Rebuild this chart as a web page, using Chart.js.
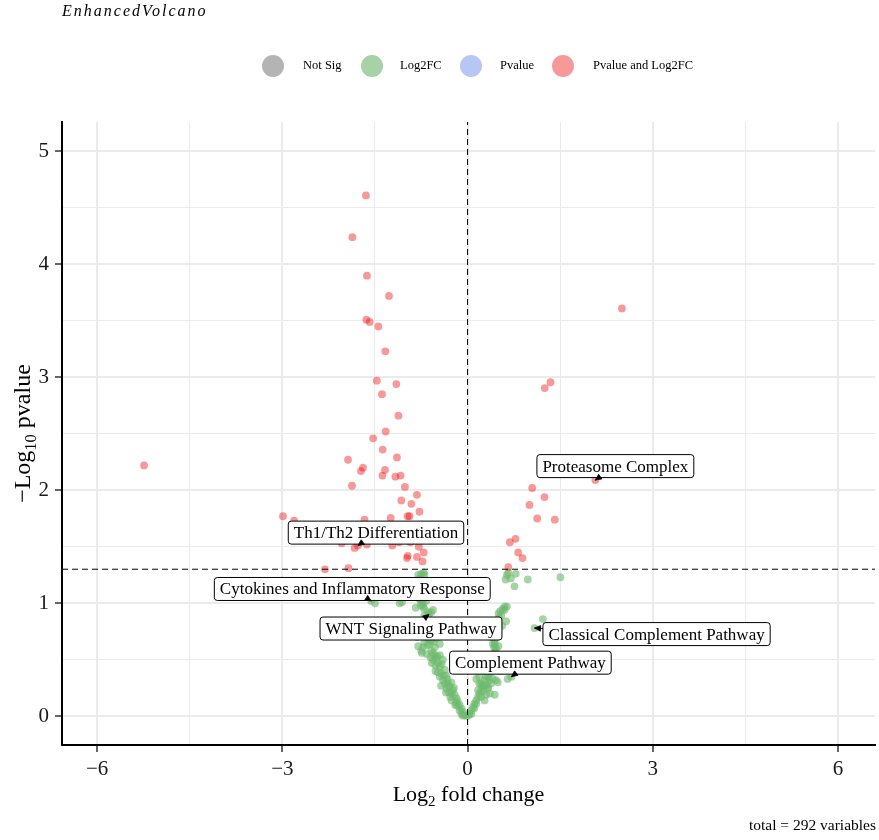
<!DOCTYPE html>
<html>
<head>
<meta charset="utf-8">
<script src="https://cdn.jsdelivr.net/npm/chart.js@4"></script>
<style>
html,body{margin:0;padding:0;background:#fff;}
#wrap{width:879px;height:840px;position:relative;}
</style>
</head>
<body>
<div id="wrap"><canvas id="c"></canvas></div>
<script>
// ---------------- data ----------------
const legendNames = ['Not Sig', 'Log2FC', 'Pvalue', 'Pvalue and Log2FC'];
const xTickValues = [-6, -4.5, -3, -1.5, 0, 1.5, 3, 4.5, 6];
const xMajorTicks = [-6, -3, 0, 3, 6];
const yTickValues = [0, 0.5, 1, 1.5, 2, 2.5, 3, 3.5, 4, 4.5, 5];
const yMajorTicks = [0, 1, 2, 3, 4, 5];
const pCutoffLog = 1.301;   // -log10(0.05)
const fcCutoff = 0;
const totalVariables = 292;

const notSigPoints = [];
const pvaluePoints = [];

const pvalAndLog2fcPoints = [
  [-5.24,2.22],[-1.646,4.61],[-1.866,4.24],[-1.63,3.90],[-1.273,3.72],[-1.64,3.51],[-1.586,3.49],
  [-1.445,3.45],[-1.332,3.23],[-1.47,2.97],[-1.154,2.94],[-1.387,2.85],[-1.12,2.66],[-1.327,2.52],
  [-1.53,2.46],[-1.375,2.36],[-1.144,2.29],[-1.937,2.27],[-1.694,2.20],[-1.727,2.17],[-1.338,2.18],
  [-1.38,2.13],[-1.17,2.12],[-1.084,2.13],[-1.015,2.03],[-1.872,2.04],[-0.82,1.96],[-1.073,1.91],
  [-0.91,1.88],[-0.78,1.81],[-2.99,1.77],[-2.81,1.73],[-1.67,1.74],[-1.246,1.755],[-0.97,1.77],
  [-0.94,1.77],[-2.04,1.53],[-1.63,1.52],[-1.22,1.51],[-1.83,1.49],[-1.775,1.51],[-1.11,1.54],
  [-0.93,1.54],[-0.79,1.50],[-0.71,1.45],[-0.97,1.42],[-0.98,1.40],[-0.82,1.41],[-0.73,1.37],
  [-2.31,1.30],[-1.93,1.31],
  [2.50,3.61],[1.343,2.956],[1.25,2.905],[2.07,2.09],[1.047,2.02],[1.246,1.94],[1.003,1.87],
  [1.128,1.75],[1.413,1.74],[0.777,1.57],[0.685,1.54],[0.82,1.45],[0.89,1.40],[0.66,1.32]
];

const log2fcPoints = [
  [-1.56,1.02],[-1.50,1.00],[-1.06,1.01],[-1.10,1.00],
  [-0.80,1.25],[-0.71,1.27],[-0.75,1.26],[-0.70,1.25],[-0.78,1.22],[-0.77,1.20],[-0.74,1.18],
  [-0.75,1.16],[-0.79,1.13],[-0.72,1.10],[-0.71,1.07],[-0.78,1.06],[-0.78,1.04],[-0.75,1.03],
  [-0.67,1.02],[-0.75,1.01],[-0.72,1.00],[-0.76,0.98],[-0.72,0.97],[-0.70,0.95],[-0.64,0.92],
  [-0.59,0.92],[-0.56,0.94],[-0.625,0.90],[-0.70,0.89],[-0.67,0.86],[-0.63,0.83],[-0.70,0.81],
  [-0.66,0.78],[-0.60,0.76],[-0.68,0.74],[-0.62,0.71],[-0.57,0.72],[-0.65,0.69],[-0.59,0.67],
  [-0.51,0.69],[-0.70,0.65],[-0.65,0.63],[-0.62,0.64],[-0.72,0.61],[-0.75,0.58],[-0.74,0.56],
  [-0.59,0.58],[-0.56,0.56],[-0.53,0.54],[-0.45,0.64],[-0.45,0.54],[-0.51,0.51],[-0.56,0.50],
  [-0.49,0.53],[-0.48,0.47],[-0.45,0.44],[-0.42,0.46],[-0.40,0.50],[-0.48,0.39],[-0.43,0.38],
  [-0.37,0.41],[-0.45,0.35],[-0.345,0.36],[-0.40,0.32],[-0.37,0.29],[-0.32,0.30],[-0.43,0.27],
  [-0.345,0.245],[-0.29,0.26],[-0.26,0.30],[-0.24,0.23],[-0.26,0.20],[-0.21,0.19],[-0.26,0.14],
  [-0.18,0.16],[-0.16,0.13],[-0.19,0.12],[-0.13,0.10],[-0.16,0.09],[-0.10,0.07],[-0.13,0.05],
  [-0.076,0.04],[-0.10,0.02],[-0.05,0.01],[-0.076,0.005],[-0.02,0.005],[-0.30,0.21],[-0.33,0.33],
  [-0.22,0.25],[-0.20,0.10],[-0.28,0.17],[-0.35,0.21],[-0.31,0.27],[-0.39,0.36],[-0.53,0.61],
  [-0.55,0.66],[-0.80,0.62],[-0.66,0.55],[-0.60,0.52],[-0.52,0.45],[-0.84,0.96],[-0.82,0.70],
  [-0.52,0.40],[-0.58,0.47],
  [0.637,1.25],[0.66,1.27],[0.78,1.26],[0.70,1.22],[0.615,1.21],[0.976,1.21],[0.76,1.15],
  [1.505,1.23],[0.60,0.97],[0.636,0.97],[0.60,0.94],[0.57,0.95],[0.53,0.93],[0.50,0.91],
  [0.545,0.89],[0.51,0.87],[0.625,0.84],[1.22,0.86],[1.085,0.78],[0.50,0.82],[0.47,0.78],
  [0.44,0.79],[0.40,0.75],[0.45,0.72],[0.38,0.70],[0.41,0.70],[0.44,0.67],[0.41,0.64],
  [0.44,0.64],[0.46,0.60],[0.43,0.61],[0.44,0.57],[0.44,0.53],[0.46,0.50],[0.41,0.47],
  [0.40,0.44],[0.36,0.42],[0.36,0.38],[0.33,0.35],[0.30,0.35],[0.275,0.32],[0.46,0.32],
  [0.41,0.33],[0.38,0.29],[0.49,0.30],[0.71,0.35],[0.65,0.33],[0.19,0.35],[0.14,0.33],
  [0.19,0.29],[0.22,0.29],[0.26,0.26],[0.24,0.27],[0.33,0.26],[0.33,0.245],[0.22,0.23],
  [0.17,0.23],[0.19,0.20],[0.36,0.20],[0.30,0.19],[0.44,0.19],[0.17,0.17],[0.22,0.17],
  [0.14,0.14],[0.275,0.14],[0.11,0.11],[0.14,0.11],[0.086,0.08],[0.11,0.07],[0.06,0.05],
  [0.03,0.02],[0.06,0.02],[0.01,0.005],[0.25,0.22],[0.30,0.28],[0.35,0.32],[0.52,0.40],
  [0.50,0.62],[0.56,0.80]
];

const labelNames = ['Proteasome Complex', 'Th1/Th2 Differentiation', 'Cytokines and Inflammatory Response',
                    'WNT Signaling Pathway', 'Classical Complement Pathway', 'Complement Pathway'];
const labelX = [2.07, -1.775, -1.56, -0.625, 1.085, 0.71];
const labelY = [2.09, 1.51, 1.02, 0.90, 0.78, 0.35];

// ---------------- style ----------------
const FONT = "'Liberation Serif','Times New Roman',serif";
const COLORS = ['rgba(77,77,77,0.42)', 'rgba(110,185,110,0.62)', 'rgba(65,105,225,0.4)', 'rgba(238,0,0,0.4)'];
const LEGEND_COLORS = ['rgba(77,77,77,0.42)', 'rgba(34,139,34,0.4)', 'rgba(65,105,225,0.38)', 'rgba(238,0,0,0.4)'];
const LABEL_OFFSETS = [[20,-14],[18,-13],[-19,-12],[-18,14],[122,6],[19,-14]];
const X_MIN = -6.57, X_MAX = 6.6, Y_MIN = -0.255, Y_MAX = 5.26;
const POINT_R = 3.9;

const isMajor = (v, list) => list.some(m => Math.abs(m - v) < 1e-6);
const fmt = v => v < 0 ? '\u2212' + Math.abs(v) : String(v);
const toXY = arr => arr.map(([x, y]) => ({x, y}));

function drawParts(ctx, parts, size, subSize, cx, cy) {
  let total = 0;
  const widths = parts.map(([t, sub]) => {
    ctx.font = `${sub ? subSize : size}px ${FONT}`;
    const w = ctx.measureText(t).width; total += w; return w;
  });
  let x = cx - total / 2;
  ctx.textAlign = 'left';
  ctx.textBaseline = 'alphabetic';
  parts.forEach(([t, sub], i) => {
    ctx.font = `${sub ? subSize : size}px ${FONT}`;
    ctx.fillText(t, x, cy + size * 0.35 + (sub ? size * 0.25 : 0));
    x += widths[i];
  });
}

const annotPlugin = {
  id: 'annot',
  afterDatasetsDraw(chart) {
    const {ctx, scales: {x, y}} = chart;
    ctx.save();
    labelNames.forEach((name, i) => {
      const px = x.getPixelForValue(labelX[i]);
      const py = y.getPixelForValue(labelY[i]);
      const [ox, oy] = LABEL_OFFSETS[i];
      const cx = px + ox, cy = py + oy;
      ctx.font = `17px ${FONT}`;
      const w = ctx.measureText(name).width + 11, h = 23;
      ctx.beginPath();
      ctx.roundRect(cx - w / 2, cy - h / 2, w, h, 3);
      ctx.fillStyle = '#fff';
      ctx.fill();
      ctx.lineWidth = 1;
      ctx.strokeStyle = '#000';
      ctx.stroke();
      ctx.fillStyle = '#000';
      ctx.textAlign = 'center';
      ctx.textBaseline = 'middle';
      ctx.fillText(name, cx, cy + 1);
      const dx = px - cx, dy = py - cy;
      const s = Math.min(dx ? (w / 2) / Math.abs(dx) : Infinity, dy ? (h / 2) / Math.abs(dy) : Infinity);
      const len = Math.hypot(dx, dy);
      const ux = -dx / len, uy = -dy / len;
      if (s < 1) {
        const bx = cx + dx * s, by = cy + dy * s;
        ctx.beginPath();
        ctx.moveTo(bx, by); ctx.lineTo(px, py);
        ctx.lineWidth = 1; ctx.stroke();
      }
      const bl = 6, hw = 2.8;
      const bx2 = px + ux * bl, by2 = py + uy * bl;
      ctx.beginPath();
      ctx.moveTo(px, py);
      ctx.lineTo(bx2 - uy * hw, by2 + ux * hw);
      ctx.lineTo(bx2 + uy * hw, by2 - ux * hw);
      ctx.closePath();
      ctx.fillStyle = '#000';
      ctx.fill();
      ctx.lineWidth = 0.8;
      ctx.stroke();
    });
    ctx.restore();
  },
  afterDraw(chart) {
    const {ctx, chartArea} = chart;
    ctx.save();
    ctx.fillStyle = '#000';
    ctx.font = `italic 16px ${FONT}`;
    ctx.textAlign = 'left';
    ctx.textBaseline = 'middle';
    try { ctx.letterSpacing = '2px'; } catch (e) {}
    ctx.fillText('EnhancedVolcano', 62, 12);
    try { ctx.letterSpacing = '0px'; } catch (e) {}
    const lx = [273, 372, 471, 563], tx = [303, 400, 500, 593];
    legendNames.forEach((n, i) => {
      ctx.beginPath();
      ctx.arc(lx[i], 66, 11, 0, Math.PI * 2);
      ctx.fillStyle = LEGEND_COLORS[i];
      ctx.fill();
      ctx.fillStyle = '#000';
      ctx.font = `12.5px ${FONT}`;
      ctx.textAlign = 'left';
      ctx.textBaseline = 'middle';
      ctx.fillText(n, tx[i], 66);
    });
    ctx.fillStyle = '#000';
    drawParts(ctx, [['Log', false], ['2', true], [' fold change', false]], 22, 15,
              (chartArea.left + chartArea.right) / 2, 793);
    ctx.save();
    ctx.translate(22, (chartArea.top + chartArea.bottom) / 2);
    ctx.rotate(-Math.PI / 2);
    drawParts(ctx, [['\u2212Log', false], ['10', true], [' pvalue', false]], 24, 16.5, 0, 0);
    ctx.restore();
    ctx.font = `15.5px ${FONT}`;
    ctx.textAlign = 'right';
    ctx.textBaseline = 'middle';
    ctx.fillText(`total = ${totalVariables} variables`, 876, 826);
    ctx.restore();
  }
};

const gridFor = majors => ({
  color: '#ebebeb',
  lineWidth: c => isMajor(c.tick.value, majors) ? 2 : 1,
  drawTicks: true,
  tickLength: 7,
  tickWidth: 1.5,
  tickColor: c => isMajor(c.tick.value, majors) ? '#333' : 'rgba(0,0,0,0)'
});

new Chart(document.getElementById('c'), {
  type: 'scatter',
  data: {
    datasets: [
      {label: 'vline', data: [{x: fcCutoff, y: Y_MIN}, {x: fcCutoff, y: Y_MAX}], showLine: true,
       borderColor: '#000', borderWidth: 1, borderDash: [6, 4], pointRadius: 0, order: 0},
      {label: 'hline', data: [{x: X_MIN, y: pCutoffLog}, {x: X_MAX, y: pCutoffLog}], showLine: true,
       borderColor: '#000', borderWidth: 1, borderDash: [6, 4], pointRadius: 0, order: 0},
      {label: legendNames[0], data: toXY(notSigPoints), backgroundColor: COLORS[0], pointRadius: POINT_R, borderWidth: 0, order: 4},
      {label: legendNames[2], data: toXY(pvaluePoints), backgroundColor: COLORS[2], pointRadius: POINT_R, borderWidth: 0, order: 3},
      {label: legendNames[1], data: toXY(log2fcPoints), backgroundColor: COLORS[1], pointRadius: POINT_R, borderWidth: 0, order: 2},
      {label: legendNames[3], data: toXY(pvalAndLog2fcPoints), backgroundColor: COLORS[3], pointRadius: POINT_R, borderWidth: 0, order: 1}
    ]
  },
  options: {
    responsive: true,
    maintainAspectRatio: false,
    animation: false,
    events: [],
    layout: {padding: {left: 0, right: 3, top: 122, bottom: 0}},
    plugins: {legend: {display: false}, tooltip: {enabled: false}},
    scales: {
      x: {
        type: 'linear', min: X_MIN, max: X_MAX,
        afterBuildTicks: s => { s.ticks = xTickValues.map(v => ({value: v})); },
        afterFit: s => { s.height = 95; },
        grid: gridFor(xMajorTicks),
        border: {display: true, color: '#000', width: 2},
        ticks: {
          autoSkip: false, maxRotation: 0, padding: 5, color: '#1a1a1a',
          font: {family: FONT, size: 21},
          callback: v => isMajor(v, xMajorTicks) ? fmt(v) : ''
        }
      },
      y: {
        type: 'linear', min: Y_MIN, max: Y_MAX,
        afterBuildTicks: s => { s.ticks = yTickValues.map(v => ({value: v})); },
        afterFit: s => { s.width = 62; },
        grid: gridFor(yMajorTicks),
        border: {display: true, color: '#000', width: 2},
        ticks: {
          autoSkip: false, padding: 6, color: '#1a1a1a',
          font: {family: FONT, size: 21},
          callback: v => isMajor(v, yMajorTicks) ? fmt(v) : ''
        }
      }
    }
  },
  plugins: [annotPlugin]
});
</script>
</body>
</html>
